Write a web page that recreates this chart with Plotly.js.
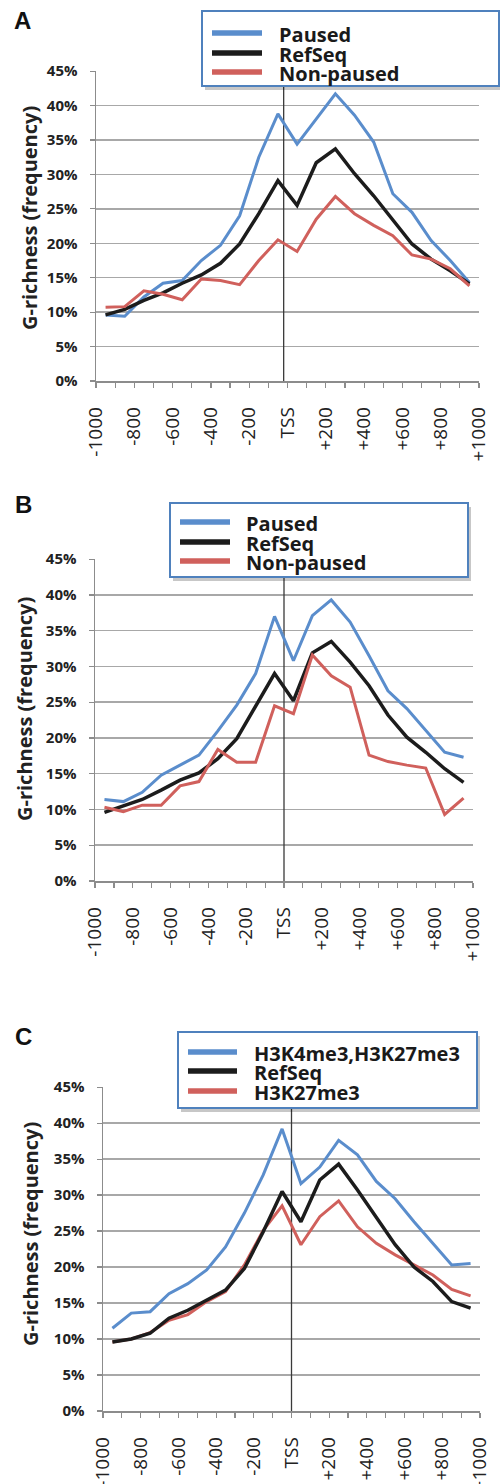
<!DOCTYPE html>
<html>
<head>
<meta charset="utf-8">
<script src="https://cdn.plot.ly/plotly-3.0.1.min.js"></script>
<style>
html,body{margin:0;padding:0;background:#fff;}
#chart{width:500px;height:1484px;}
</style>
</head>
<body>
<div id="chart"></div>
<script>
// ---------- data ----------
const binCenters = [-950,-850,-750,-650,-550,-450,-350,-250,-150,-50,50,150,250,350,450,550,650,750,850,950];
const tickVals = [-1000,-900,-800,-700,-600,-500,-400,-300,-200,-100,0,100,200,300,400,500,600,700,800,900,1000];
const tickText = ['-1000','','-800','','-600','','-400','','-200','','TSS','','+200','','+400','','+600','','+800','','+1000'];
const yTickVals = [0,5,10,15,20,25,30,35,40,45];
const yTickText = ['0%','5%','10%','15%','20%','25%','30%','35%','40%','45%'];

const panelLabels = ['A','B','C'];
const namesAB = ['Paused','RefSeq','Non-paused'];
const namesC = ['H3K4me3,H3K27me3','RefSeq','H3K27me3'];
const yTitle = 'G-richness (frequency)';

// Panel A (% G-richness)
const pausedA    = [9.6,9.4,12.2,14.2,14.6,17.5,19.7,24.0,32.5,38.8,34.4,38.1,41.7,38.6,34.7,27.2,24.5,20.4,17.5,14.3];
const refseqA    = [9.6,10.4,11.7,12.8,14.2,15.4,17.1,19.9,24.3,29.1,25.5,31.7,33.7,30.1,26.9,23.3,19.9,17.7,16.0,14.1];
const nonpausedA = [10.7,10.8,13.1,12.6,11.8,14.8,14.6,14.0,17.5,20.5,18.8,23.5,26.8,24.3,22.6,21.1,18.3,17.7,16.3,13.8];

// Panel B
const pausedB    = [11.4,11.1,12.4,14.8,16.2,17.6,21.0,24.6,29.0,37.0,30.8,37.1,39.3,36.2,31.5,26.6,24.1,21.0,18.0,17.3];
const refseqB    = [9.6,10.5,11.4,12.7,14.1,15.1,17.1,19.9,24.5,29.0,25.2,31.9,33.5,30.6,27.3,23.2,20.1,18.0,15.7,13.8];
const nonpausedB = [10.3,9.7,10.6,10.6,13.3,13.9,18.4,16.6,16.6,24.5,23.4,31.6,28.7,27.1,17.6,16.7,16.2,15.8,9.3,11.6];

// Panel C
const bivalentC  = [11.5,13.6,13.8,16.3,17.7,19.6,22.8,27.5,32.8,39.2,31.6,33.9,37.6,35.6,31.9,29.5,26.3,23.3,20.3,20.5];
const refseqC    = [9.6,10.0,10.8,12.9,14.0,15.4,16.8,19.8,24.9,30.5,26.3,32.1,34.3,30.7,26.8,23.1,20.0,18.0,15.2,14.3];
const k27C       = [9.6,10.0,10.9,12.6,13.4,15.2,16.6,20.3,25.1,28.5,23.1,27.0,29.2,25.6,23.3,21.7,20.3,18.9,16.9,16.0];

// ---------- styling ----------
const W = 500, H = 1484;
const BLUE = '#5a8dcc', BLACK = '#1c1c1c', RED = '#d0605c';
const FONT = 'Open Sans, Liberation Sans, sans-serif';
const px = x => x / W;
const py = y => 1 - y / H;

// panel geometry (pixels)
const panels = [
  {x0:96, x1:479, yTop:71,   yBot:381,  tss:-20,
   legend:{x0:202, x1:499, y0:11,   y1:86,   lx0:212, lx1:262, tx:277, rows:[33,53,72]},
   label:{x:22, y:20}, title:{x:30, y:218}},
  {x0:95, x1:473, yTop:559,  yBot:881,  tss:0,
   legend:{x0:170, x1:468, y0:503,  y1:577,  lx0:180, lx1:230, tx:244, rows:[522,542,561]},
   label:{x:23, y:505}, title:{x:24, y:709}},
  {x0:103, x1:480, yTop:1087, yBot:1411, tss:0,
   legend:{x0:178, x1:477, y0:1032, y1:1108, lx0:188, lx1:237, tx:252, rows:[1052,1071,1091]},
   label:{x:23, y:1036}, title:{x:30, y:1234}}
];

const seriesSets = [
  {names:namesAB, data:[pausedA, refseqA, nonpausedA], order:[0,1,2]},
  {names:namesAB, data:[pausedB, refseqB, nonpausedB], order:[0,1,2]},
  {names:namesC,  data:[bivalentC, refseqC, k27C],     order:[0,2,1]}
];
const colors = [BLUE, BLACK, RED];
const widths = [3, 3.5, 3];

const traces = [];
const layout = {
  width: W, height: H,
  margin: {l:0, r:0, t:0, b:0},
  paper_bgcolor: '#ffffff', plot_bgcolor: '#ffffff',
  showlegend: false,
  font: {family: FONT, color: '#222'},
  shapes: [], annotations: []
};

panels.forEach((p, i) => {
  const n = i === 0 ? '' : String(i + 1);
  const xa = 'x' + n, ya = 'y' + n;
  const set = seriesSets[i];
  set.order.forEach(k => {
    traces.push({
      type: 'scatter', mode: 'lines',
      x: binCenters, y: set.data[k], name: set.names[k],
      xaxis: xa, yaxis: ya,
      line: {color: colors[k], width: widths[k]},
      hoverinfo: 'skip'
    });
  });
  layout['xaxis' + n] = {
    domain: [px(p.x0), px(p.x1)], anchor: ya,
    range: [-1000, 1000], fixedrange: true,
    tickmode: 'array', tickvals: tickVals, ticktext: tickText,
    tickangle: -90, ticks: 'outside', ticklen: 5, tickwidth: 1.2, tickcolor: '#8c8c8c',
    ticklabelstandoff: 12,
    showline: true, linecolor: '#8c8c8c', linewidth: 1.5,
    showgrid: false, zeroline: false,
    tickfont: {family: FONT, size: 19, color: '#222'}
  };
  layout['yaxis' + n] = {
    domain: [py(p.yBot), py(p.yTop)], anchor: xa,
    range: [0, 45.02], fixedrange: true,
    tickmode: 'array', tickvals: yTickVals, ticktext: yTickText,
    ticks: 'outside', ticklen: 5, tickwidth: 1.2, tickcolor: '#8c8c8c',
    ticklabelstandoff: 9,
    showline: true, linecolor: '#8c8c8c', linewidth: 1.5,
    showgrid: true, gridcolor: '#a8a8a8', gridwidth: 1.5, zeroline: false,
    tickfont: {family: FONT, size: 15, color: '#222', weight: 700}
  };
  // TSS vertical line
  layout.shapes.push({
    type: 'line', xref: xa, yref: ya, x0: p.tss, x1: p.tss, y0: -0.4, y1: 43,
    line: {color: '#3a3a3a', width: 1.3}, layer: 'between'
  });
  // legend box: shadow + box
  const L = p.legend;
  layout.shapes.push({
    type: 'rect', xref: 'paper', yref: 'paper',
    x0: px(L.x0 + 3), x1: px(L.x1 + 3), y0: py(L.y1 + 4), y1: py(L.y0 + 4),
    fillcolor: 'rgba(0,0,0,0.22)', line: {width: 0}, layer: 'above'
  });
  layout.shapes.push({
    type: 'rect', xref: 'paper', yref: 'paper',
    x0: px(L.x0), x1: px(L.x1), y0: py(L.y1), y1: py(L.y0),
    fillcolor: '#ffffff', line: {color: '#4f81bd', width: 2}, layer: 'above'
  });
  [0,1,2].forEach(k => {
    layout.shapes.push({
      type: 'line', xref: 'paper', yref: 'paper',
      x0: px(L.lx0), x1: px(L.lx1), y0: py(L.rows[k]), y1: py(L.rows[k]),
      line: {color: colors[k], width: 5.5}, layer: 'above'
    });
    layout.annotations.push({
      xref: 'paper', yref: 'paper', x: px(L.tx), y: py(L.rows[k] + 1),
      xanchor: 'left', yanchor: 'middle', showarrow: false,
      text: set.names[k],
      font: {family: FONT, size: 20, color: '#1a1a1a', weight: 700}
    });
  });
  // panel letter
  layout.annotations.push({
    xref: 'paper', yref: 'paper', x: px(p.label.x), y: py(p.label.y),
    xanchor: 'center', yanchor: 'middle', showarrow: false,
    text: panelLabels[i],
    font: {family: 'Liberation Sans, Arial, sans-serif', size: 24, color: '#111', weight: 700}
  });
  // y-axis title
  layout.annotations.push({
    xref: 'paper', yref: 'paper', x: px(p.title.x), y: py(p.title.y),
    xanchor: 'center', yanchor: 'middle', showarrow: false, textangle: -90,
    text: yTitle,
    font: {family: FONT, size: 20, color: '#222', weight: 700}
  });
});

Plotly.newPlot('chart', traces, layout, {staticPlot: true, displayModeBar: false});
</script>
</body>
</html>
